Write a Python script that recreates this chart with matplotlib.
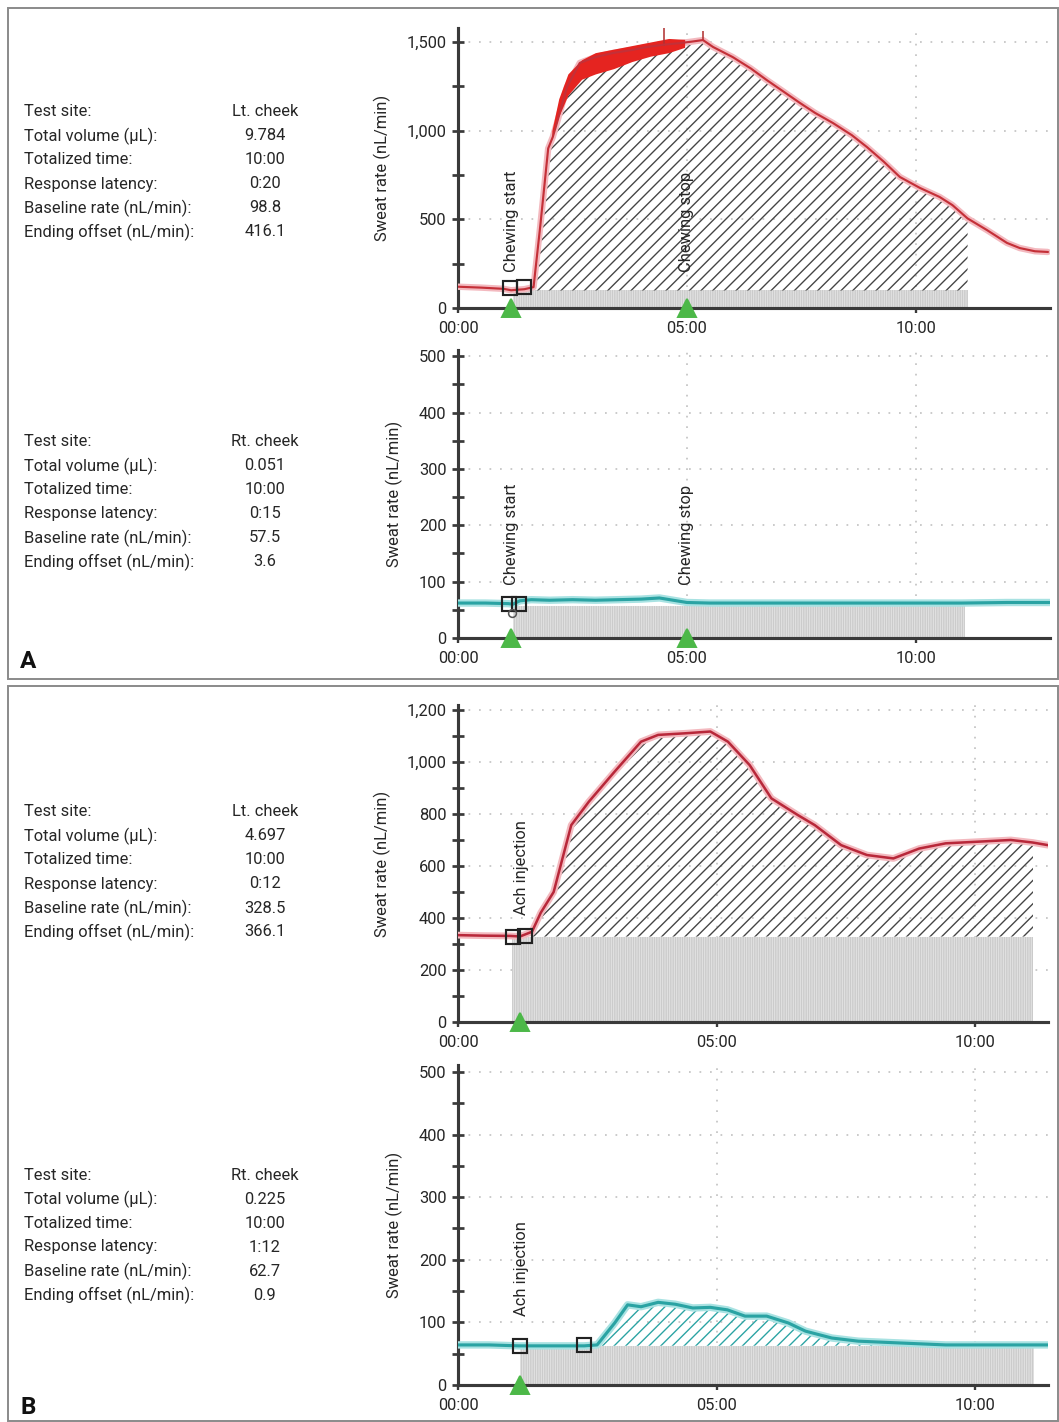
import matplotlib
matplotlib.use("Agg")
import matplotlib.pyplot as plt
from matplotlib.patches import Rectangle
import numpy as np

plt.rcParams["font.family"] = ["Roboto", "DejaVu Sans"]
plt.rcParams["hatch.linewidth"] = 0.7

DPI = 140
W, H = 1059, 1422
FS = 8.5  # pt

INFO_KEYS = ["Test site:", "Total volume (\u00b5L):", "Totalized time:",
             "Response latency:", "Baseline rate (nL/min):", "Ending offset (nL/min):"]

# ---- A, left cheek (chewing) ----
a1_info = ["Lt. cheek", "9.784", "10:00", "0:20", "98.8", "416.1"]
a1_t = [0, 0.5, 1.0, 1.16, 1.3, 1.45, 1.65, 1.8, 1.97, 2.07, 2.16, 2.38, 2.66, 3.0,
        3.38, 3.8, 4.12, 4.5, 4.85, 5.1, 5.35, 5.57, 6.0, 6.4, 6.74, 7.1, 7.47, 7.8,
        8.19, 8.6, 8.93, 9.3, 9.65, 10.09, 10.52, 10.8, 11.13, 11.55, 11.99, 12.27,
        12.6, 12.88]
a1_v = [120, 115, 108, 100, 103, 106, 118, 470, 900, 964, 1043, 1246, 1382, 1415,
        1438, 1455, 1472, 1485, 1494, 1502, 1511, 1472, 1415, 1350, 1286, 1222, 1156,
        1100, 1043, 975, 908, 825, 739, 677, 626, 580, 505, 440, 367, 338, 320, 316]
a1_band_t = [2.05, 2.2, 2.4, 2.7, 3.0, 3.4, 3.8, 4.2, 4.6, 4.95]
a1_band_lo = [960, 1080, 1200, 1290, 1320, 1350, 1390, 1420, 1440, 1470]
a1_band_hi = [1000, 1180, 1320, 1400, 1440, 1460, 1480, 1500, 1520, 1515]
a1_spike_t = [4.5, 5.35]
a1_spike_lo = [1480, 1505]
a1_spike_hi = [1595, 1560]
a1_base = 98.8
a1_boxes_t = [1.13, 1.45]
a1_boxes_v = [112, 118]
a1_events = [(1.16, "Chewing start"), (5.0, "Chewing stop")]

# ---- A, right cheek (chewing) ----
a2_info = ["Rt. cheek", "0.051", "10:00", "0:15", "57.5", "3.6"]
a2_t = [0, 0.6, 1.1, 1.2, 1.35, 1.6, 2.0, 2.5, 3.0, 3.5, 4.0, 4.4, 4.7, 5.0, 5.5,
        6.0, 7.0, 8.0, 9.0, 10.0, 11.0, 12.0, 12.93]
a2_v = [62, 62, 61, 60, 66, 68, 67, 68, 67, 68, 69, 71, 67, 63, 62, 62, 62, 62, 62,
        62, 62, 63, 63]
a2_base = 57.5
a2_boxes_t = [1.12, 1.34]
a2_boxes_v = [60, 60]
a2_events = [(1.16, "Chewing start"), (5.0, "Chewing stop")]

# ---- B, left cheek (Ach) ----
b1_info = ["Lt. cheek", "4.697", "10:00", "0:12", "328.5", "366.1"]
b1_t = [0, 0.5, 1.01, 1.2, 1.43, 1.6, 1.85, 2.19, 2.53, 3.03, 3.54, 3.87, 4.38, 4.88,
        5.22, 5.64, 6.06, 6.57, 6.9, 7.41, 7.91, 8.42, 8.92, 9.43, 10.02, 10.69,
        11.12, 11.41]
b1_v = [334, 332, 331, 329, 347, 420, 500, 757, 847, 963, 1078, 1104, 1110, 1117,
        1078, 988, 860, 796, 757, 680, 642, 629, 667, 687, 693, 700, 690, 680]
b1_base = 328.5
b1_boxes_t = [1.07, 1.3]
b1_boxes_v = [328, 330]
b1_events = [(1.22, "Ach injection")]

# ---- B, right cheek (Ach) ----
b2_info = ["Rt. cheek", "0.225", "10:00", "1:12", "62.7", "0.9"]
b2_t = [0, 0.6, 1.18, 1.8, 2.44, 2.69, 3.03, 3.28, 3.54, 3.87, 4.2, 4.54, 4.88,
        5.21, 5.55, 5.97, 6.39, 6.72, 7.23, 7.74, 8.58, 9.43, 10.5, 11.12, 11.41]
b2_v = [64, 64, 62.5, 62.5, 62.5, 64, 99, 128, 125, 132, 129, 123, 124, 120, 110,
        110, 99, 86, 75, 70, 67, 64, 64, 64, 64]
b2_base = 62.7
b2_boxes_t = [1.2, 2.44]
b2_boxes_v = [62, 64]
b2_events = [(1.22, "Ach injection")]

RED_HALO, RED = "#f3b9bf", "#b8283a"
TEAL_HALO, TEAL = "#a8e2e2", "#2aa3a3"
AXC = "#3a3a3a"
TXT = "#262626"


def rect(l, t, r, b):
    return [l / W, 1 - b / H, (r - l) / W, (b - t) / H]


def style_axes(ax, xmax, ymax, ylab_step, ytick_step, fmt):
    ax.set_xlim(0, xmax)
    ax.set_ylim(0, ymax)
    for s in ("top", "right"):
        ax.spines[s].set_visible(False)
    for s in ("left", "bottom"):
        ax.spines[s].set_color(AXC)
        ax.spines[s].set_linewidth(1.6)
    labeled = np.arange(0, ymax, ylab_step)
    ax.set_yticks(labeled)
    ax.set_yticklabels([fmt(v) for v in labeled])
    ax.set_yticks(np.arange(0, ymax, ytick_step), minor=True)
    ax.tick_params(axis="y", which="both", direction="inout", length=6, width=1.4,
                   color=AXC, labelsize=FS, labelcolor=TXT, pad=3)
    ax.set_xticks([0, 5, 10])
    ax.set_xticklabels(["00:00", "05:00", "10:00"])
    ax.tick_params(axis="x", direction="out", length=2.5, width=1.2, color=AXC,
                   labelsize=FS, labelcolor=TXT, pad=4)
    for v in labeled[1:]:
        ax.axhline(v, color="#c4c4c4", lw=0.9, ls=(0, (1, 5)), zorder=0)
    for v in (5, 10):
        ax.axvline(v, color="#c4c4c4", lw=0.9, ls=(0, (1, 5)), zorder=0)
    ax.set_ylabel("Sweat rate (nL/min)", fontsize=FS, color=TXT, labelpad=8)


def draw_trace(ax, t, v, base, stip, hatch_rng, hatch_col, halo, core, boxes, tri_t,
               events, ev_y, lw=1.3):
    t = np.array(t)
    v = np.array(v)
    ax.fill_between(stip, 0, base, facecolor="#e4e4e4", edgecolor="#cbcbcb",
                    hatch="|" * 10, linewidth=0, zorder=1)
    if hatch_rng is not None:
        m = (t >= hatch_rng[0]) & (t <= hatch_rng[1])
        ax.fill_between(t[m], base, np.maximum(v[m], base), facecolor="none",
                        edgecolor=hatch_col, hatch="////", linewidth=0, zorder=2)
    ax.plot(t, v, color=halo, lw=lw + 2.2, solid_capstyle="round", zorder=3)
    ax.plot(t, v, color=core, lw=lw, zorder=4)
    ax.plot(boxes[0], boxes[1], "s", mfc="none", mec="#222222", ms=7, mew=1.1,
            zorder=6)
    ax.plot(tri_t, [0] * len(tri_t), "^", color="#4cb848", ms=9.5, clip_on=False,
            zorder=7)
    for et, lab in events:
        ax.text(et, ev_y, lab, rotation=90, ha="center", va="bottom", fontsize=FS,
                color=TXT, zorder=8)


def info_block(fig, values, y0):
    for i, (k, val) in enumerate(zip(INFO_KEYS, values)):
        y = 1 - (y0 + 24 * i) / H
        fig.text(24 / W, y, k, ha="left", va="center", fontsize=FS, color=TXT)
        fig.text(265 / W, y, val, ha="center", va="center", fontsize=FS, color=TXT)


fig = plt.figure(figsize=(W / DPI, H / DPI), dpi=DPI)

# panel frames
fig.add_artist(Rectangle((8 / W, 1 - 679 / H), 1050 / W, 671 / H, transform=fig.transFigure,
                         fill=False, edgecolor="#8a8a8a", lw=1.0))
fig.add_artist(Rectangle((8 / W, 1 - 1421 / H), 1050 / W, 735 / H, transform=fig.transFigure,
                         fill=False, edgecolor="#8a8a8a", lw=1.0))

comma = lambda v: f"{int(v):,}"
plain = lambda v: f"{int(v)}"

# A top
ax = fig.add_axes(rect(458, 28, 1050, 308))
style_axes(ax, 12.93, 1579, 500, 250, comma)
ax.fill_between(a1_band_t, a1_band_lo, a1_band_hi, color="#e52420", lw=0, zorder=4)
ax.vlines(a1_spike_t, a1_spike_lo, a1_spike_hi, color="#b03030", lw=0.8, zorder=4)
draw_trace(ax, a1_t, a1_v, a1_base, [1.2, 11.13], (1.65, 11.13), "#444444",
           RED_HALO, "#c43038", (a1_boxes_t, a1_boxes_v), [1.16, 5.0], a1_events,
           205, lw=1.1)
info_block(fig, a1_info, 112)

# A bottom
ax = fig.add_axes(rect(458, 350, 1050, 638))
style_axes(ax, 12.93, 511, 100, 50, plain)
draw_trace(ax, a2_t, a2_v, a2_base, [1.2, 11.08], None, None, TEAL_HALO, TEAL,
           (a2_boxes_t, a2_boxes_v), [1.16, 5.0], a2_events, 94, lw=1.6)
ax.plot([1.18], [44], "o", mfc="none", mec="#555555", ms=4, mew=0.8, zorder=6)
info_block(fig, a2_info, 442)

# B top
ax = fig.add_axes(rect(458, 705, 1048, 1022))
style_axes(ax, 11.41, 1219, 200, 100, comma)
draw_trace(ax, b1_t, b1_v, b1_base, [1.05, 11.12], (1.43, 11.12), "#444444",
           RED_HALO, RED, (b1_boxes_t, b1_boxes_v), [1.2], b1_events, 411)
info_block(fig, b1_info, 812)

# B bottom
ax = fig.add_axes(rect(458, 1065, 1048, 1385))
style_axes(ax, 11.41, 511, 100, 50, plain)
draw_trace(ax, b2_t, b2_v, b2_base, [1.2, 11.13], (2.69, 8.6), "#2aa3a3",
           TEAL_HALO, TEAL, (b2_boxes_t, b2_boxes_v), [1.2], b2_events, 110, lw=1.6)
info_block(fig, b2_info, 1175)

fig.text(28 / W, 1 - 662 / H, "A", ha="center", va="center", fontsize=12.5,
         fontweight="bold", color="#111111")
fig.text(28 / W, 1 - 1408 / H, "B", ha="center", va="center", fontsize=12.5,
         fontweight="bold", color="#111111")

fig.savefig("out.png", dpi=DPI)
